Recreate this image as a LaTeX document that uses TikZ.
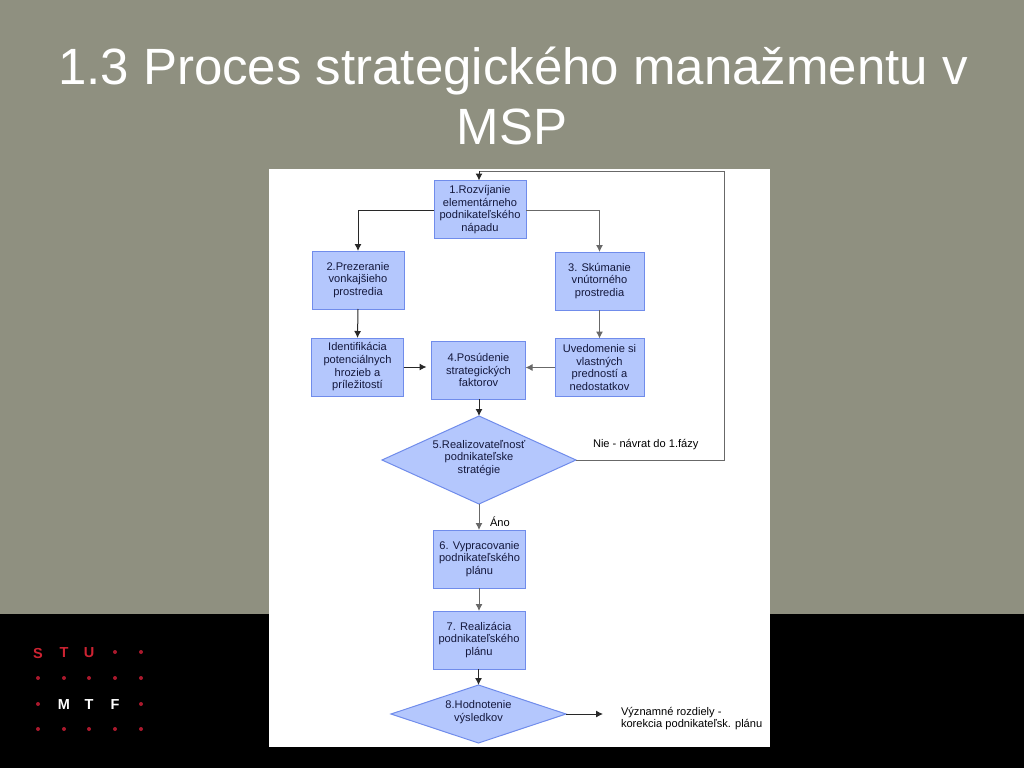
\documentclass[tikz,border=0pt]{standalone}
\usepackage{fontspec}
\setmainfont{Liberation Sans}
\usetikzlibrary{shapes.geometric,arrows.meta,calc}
\definecolor{bandgrey}{RGB}{143,144,128}
\definecolor{boxfill}{RGB}{180,199,253}
\definecolor{boxline}{RGB}{112,140,235}
\definecolor{inktext}{RGB}{20,24,60}
\definecolor{conn}{RGB}{40,40,40}
\definecolor{logored}{RGB}{205,35,50}
\definecolor{dotred}{RGB}{170,25,45}
\newcommand{\boxfont}{\fontsize{11.1}{12.7}\selectfont}
\tikzset{
  x=1pt,y=-1pt,
  every node/.style={outer sep=0pt},
  stepbox/.style={draw=boxline,fill=boxfill,line width=1pt,minimum width=#1,inner sep=0pt,align=center,font=\boxfont,text=inktext},
  flowbox/.style={stepbox=92pt,minimum height=58pt},
  flowarrow/.style={draw=conn,line width=1pt,-{Latex[length=7pt,width=7pt]}},
  greyarrow/.style={flowarrow,draw=conn!70},
  flowline/.style={draw=conn!70,line width=1pt},
  remark/.style={inner sep=0pt,align=left,font=\boxfont,text=black,anchor=west},
  titletext/.style={inner sep=0pt,text=white,anchor=base,font=\fontsize{51}{60}\selectfont},
  logoletter/.style={inner sep=0pt,font=\fontsize{14.5}{14.5}\selectfont\bfseries},
  logodot/.style={circle,fill=dotred,inner sep=0pt,minimum size=4pt},
}
\begin{document}
\begin{tikzpicture}
\useasboundingbox (0,0) rectangle (1024,768);
\fill[bandgrey] (0,0) rectangle (1024,614);
\fill[black] (0,614) rectangle (1024,768);
\fill[white] (269,169) rectangle (770,747);
\node[titletext] (t1) at (513,84) {1.3 Proces strategického manažmentu v};
\node[titletext] (t2) at (512,144) {MSP};
% logo
\foreach \px/\py/\nm in {115/652/a,141/652/b,38/678/c,64/678/d,89/678/e,115/678/f,141/678/g,38/704/h,141/704/i,38/729/j,64/729/k,89/729/l,115/729/m,141/729/n}
  \node[logodot] (dot\nm) at (\px,\py) {};
\node[logoletter,text=logored] (ls) at (38,653) {S};
\node[logoletter,text=logored] (lt) at (64,653) {T};
\node[logoletter,text=logored] (lu) at (89,653) {U};
\node[logoletter,text=white] (lm) at (64,704.5) {M};
\node[logoletter,text=white] (lv) at (89,704.5) {T};
\node[logoletter,text=white] (lf) at (115,704.5) {F};
% flow nodes
\node[flowbox] (n1) at (480,209.5) {1.Rozvíjanie\\elementárneho\\podnikateľského\\nápadu};
\node[flowbox] (n2) at (358,280) {2.Prezeranie\\vonkajšieho\\prostredia};
\node[stepbox=89pt,minimum height=58pt] (n3) at (599.5,281) {3. Skúmanie\\vnútorného\\prostredia};
\node[flowbox] (ni) at (357.5,367) {Identifikácia\\potenciálnych\\hrozieb a\\príležitostí};
\node[stepbox=94pt,minimum height=58pt] (n4) at (478.5,370) {4.Posúdenie\\strategických\\faktorov};
\node[stepbox=89pt,minimum height=58pt] (nu) at (599.5,367.5) {Uvedomenie si\\vlastných\\predností a\\nedostatkov};
\node[draw=boxline,fill=boxfill,line width=1pt,diamond,inner sep=0pt,minimum width=194pt,minimum height=88pt,aspect=2.2] (n5) at (479,460) {};
\node[inner sep=0pt,align=center,font=\boxfont,text=inktext] (n5t) at (479,458) {5.Realizovateľnosť\\podnikateľske\\stratégie};
\node[flowbox] (n6) at (479.5,559) {6. Vypracovanie\\podnikateľského\\plánu};
\node[flowbox] (n7) at (479,640) {7. Realizácia\\podnikateľského\\plánu};
\node[draw=boxline,fill=boxfill,line width=1pt,diamond,inner sep=0pt,minimum width=175pt,minimum height=58pt,aspect=3] (n8) at (478.5,714) {};
\node[inner sep=0pt,align=center,font=\boxfont,text=inktext] (n8t) at (478.5,712) {8.Hodnotenie\\výsledkov};
% labels
\node[remark] (nie) at (593,445) {Nie - návrat do 1.fázy};
\node[remark] (ano) at (490,521.5) {Áno};
\node[remark] (vyz) at (621,718.5) {Významné rozdiely -\\korekcia podnikateľsk. plánu};
\coordinate (top) at (724,171);
\coordinate (turn) at (724,460);
\coordinate (tin) at (479,171);
% connectors
\draw[flowarrow] (n1.west |- 0,210) -| (n2.north);
\draw[greyarrow] (n1.east |- 0,210) -| (n3.north);
\draw[flowarrow] (n2.south) -- (ni.north);
\draw[greyarrow] (n3.south) -- (nu.north);
\draw[flowarrow,shorten >=5pt] (ni.east) -- (n4.west |- ni.east);
\draw[greyarrow] (nu.west) -- (n4.east |- nu.west);
\draw[flowarrow] (n4.south -| n5.north) -- (n5.north);
\draw[greyarrow] (n5.south) -- (n6.north -| n5.south);
\draw[greyarrow] (n6.south -| n7.north) -- (n7.north);
\draw[flowarrow] (n7.south -| n8.north) -- (n8.north);
\draw[flowarrow] (n8.east) -- ($(vyz.west |- n8.east)+(-18,0)$);
\draw[flowline] (n5.east) -- (turn) -- (top) -- (tin);
\draw[flowarrow] (tin) -- (n1.north -| tin);
\end{tikzpicture}
\end{document}
